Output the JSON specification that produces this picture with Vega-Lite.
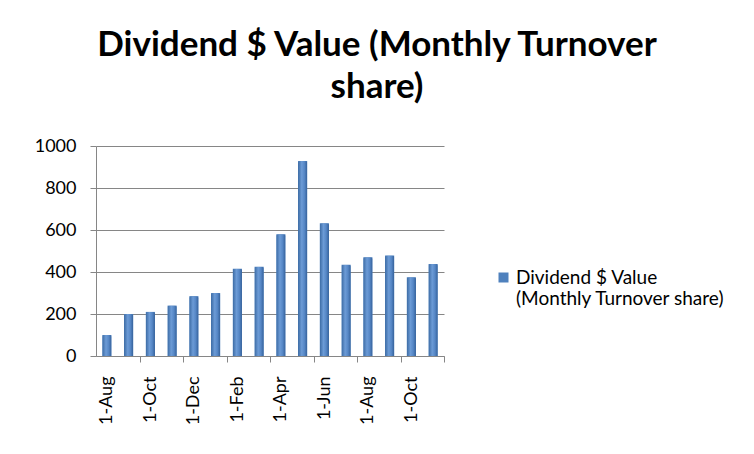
{
  "$schema": "https://vega.github.io/schema/vega-lite/v6.json",
  "description": "Dividend $ value per month, Excel style 3D column chart redone flat.",
  "width": 348,
  "height": 210,
  "autosize": {"type": "none"},
  "padding": {"left": 96, "top": 146, "right": 310, "bottom": 98},
  "background": "white",
  "title": {
    "text": ["Dividend $ Value (Monthly Turnover", "share)"],
    "font": "Lato",
    "fontSize": 35,
    "fontWeight": "bold",
    "color": "#000000",
    "anchor": "middle",
    "dx": 107,
    "baseline": "bottom",
    "lineHeight": 42,
    "offset": -3
  },
  "config": {"view": {"stroke": null}, "font": "Lato"},
  "data": {
    "values": [
      {"date": "2008-08-01", "value": 100, "series": "Dividend $ Value (Monthly Turnover share)"},
      {"date": "2008-09-01", "value": 200, "series": "Dividend $ Value (Monthly Turnover share)"},
      {"date": "2008-10-01", "value": 210, "series": "Dividend $ Value (Monthly Turnover share)"},
      {"date": "2008-11-01", "value": 240, "series": "Dividend $ Value (Monthly Turnover share)"},
      {"date": "2008-12-01", "value": 285, "series": "Dividend $ Value (Monthly Turnover share)"},
      {"date": "2009-01-01", "value": 300, "series": "Dividend $ Value (Monthly Turnover share)"},
      {"date": "2009-02-01", "value": 415, "series": "Dividend $ Value (Monthly Turnover share)"},
      {"date": "2009-03-01", "value": 425, "series": "Dividend $ Value (Monthly Turnover share)"},
      {"date": "2009-04-01", "value": 580, "series": "Dividend $ Value (Monthly Turnover share)"},
      {"date": "2009-05-01", "value": 928, "series": "Dividend $ Value (Monthly Turnover share)"},
      {"date": "2009-06-01", "value": 632, "series": "Dividend $ Value (Monthly Turnover share)"},
      {"date": "2009-07-01", "value": 435, "series": "Dividend $ Value (Monthly Turnover share)"},
      {"date": "2009-08-01", "value": 470, "series": "Dividend $ Value (Monthly Turnover share)"},
      {"date": "2009-09-01", "value": 478, "series": "Dividend $ Value (Monthly Turnover share)"},
      {"date": "2009-10-01", "value": 375, "series": "Dividend $ Value (Monthly Turnover share)"},
      {"date": "2009-11-01", "value": 438, "series": "Dividend $ Value (Monthly Turnover share)"}
    ]
  },
  "encoding": {
    "x": {
      "field": "date",
      "type": "ordinal",
      "scale": {"paddingInner": 0.58, "paddingOuter": 0.29},
      "axis": {
        "title": null,
        "labelExpr": "utcmonth(toDate(datum.value)) % 2 === 1 ? utcFormat(toDate(datum.value), '%-d-%b') : ''",
        "labelAngle": 270,
        "labelFontSize": 18,
        "labelColor": "#000000",
        "labelPadding": 14,
        "labelOverlap": false,
        "tickSize": 6,
        "tickColor": "#868686",
        "tickOffset": 10.875,
        "labelOffset": -10.875,
        "tickOpacity": {"condition": {"test": "utcmonth(toDate(datum.value)) % 2 === 0", "value": 1}, "value": 0},
        "domainColor": "#868686",
        "grid": false
      }
    },
    "y": {
      "field": "value",
      "type": "quantitative",
      "scale": {"domain": [0, 1000]},
      "axis": {
        "title": null,
        "values": [0, 200, 400, 600, 800, 1000],
        "format": "d",
        "labelFontSize": 18,
        "labelColor": "#000000",
        "labelPadding": 14,
        "tickSize": 6,
        "tickColor": "#868686",
        "domainColor": "#868686",
        "gridColor": "#868686",
        "grid": true
      }
    }
  },
  "layer": [
    {
      "mark": {"type": "bar"},
      "encoding": {
        "color": {
          "field": "series",
          "type": "nominal",
          "scale": {"range": ["#4F81BD"]},
          "legend": {
            "title": null,
            "orient": "none",
            "legendX": 398,
            "legendY": 128,
            "padding": 0,
            "labelExpr": "['Dividend $ Value', '(Monthly Turnover share)']",
            "labelFontSize": 19,
            "labelColor": "#000000",
            "labelLimit": 400,
            "labelBaseline": "alphabetic",
            "labelOffset": 3,
            "symbolType": "M-1,-2.2L1,-2.2L1,-0.2L-1,-0.2Z",
            "symbolSize": 100,
            "symbolStrokeWidth": 0
          }
        }
      }
    },
    {
      "mark": {
        "type": "bar",
        "cornerRadiusTopLeft": 2,
        "cornerRadiusTopRight": 2,
        "fill": {
          "gradient": "linear",
          "x1": 0, "y1": 0, "x2": 1, "y2": 0,
          "stops": [
            {"offset": 0, "color": "#3b6aa3"},
            {"offset": 0.4, "color": "#6c9bd6"},
            {"offset": 0.7, "color": "#5687c6"},
            {"offset": 1, "color": "#35619a"}
          ]
        }
      }
    }
  ]
}
